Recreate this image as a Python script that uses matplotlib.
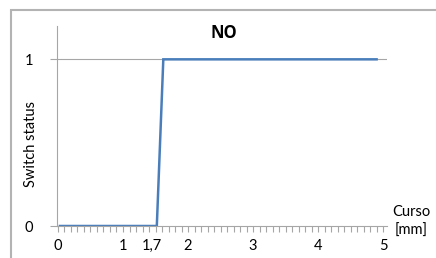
import matplotlib
matplotlib.use("Agg")
import matplotlib.pyplot as plt
import matplotlib.transforms as mtransforms
from matplotlib.patches import Rectangle
import numpy as np

plt.rcParams['font.family'] = ['Lato', 'DejaVu Sans']

# dati (curso in mm, stato dell'interruttore)
curso = [0.03, 1.52, 1.62, 4.9]
stato = [0, 0, 1, 1]

tick_pos = [0, 1, 1.45, 2, 3, 4, 5]
tick_lbl = ["0", "1", "1,7", "2", "3", "4", "5"]

fig = plt.figure(figsize=(4.36, 2.58), dpi=100)
fig.patch.set_facecolor("white")

# cornice del grafico (tagliata a destra e in basso)
cornice = Rectangle((10.5 / 436, -0.1), 1.0, (258 - 9.5) / 258 + 0.1,
                    transform=fig.transFigure, fill=False,
                    edgecolor="#b3b3b3", linewidth=1.5)
fig.add_artist(cornice)

ax = fig.add_axes([57 / 436, 32 / 258, 330 / 436, 200 / 258])
ax.plot(curso, stato, color="#4a7ebb", linewidth=1.8, solid_joinstyle="miter")

ax.set_xlim(-0.015, 5.06)
ax.set_ylim(0, 1.2)

ax.axhline(1, color="#a6a6a6", linewidth=0.8, zorder=0)
for s in ["top", "right"]:
    ax.spines[s].set_visible(False)
ax.spines["left"].set_color("#a6a6a6")
ax.spines["bottom"].set_color("#a6a6a6")
ax.spines["left"].set_linewidth(0.8)
ax.spines["bottom"].set_linewidth(0.8)

ax.set_yticks([0, 1])
ax.set_yticklabels(["0", "1"], fontsize=10.5)
ax.tick_params(axis="y", length=5, color="#a6a6a6", width=0.8, pad=12)

# tacche ogni 0,1 mm, etichette scritte a parte
ax.set_xticks(np.arange(51) / 10)
ax.set_xticklabels([])
ax.tick_params(axis="x", length=4, color="#a6a6a6", width=0.8)
trans = mtransforms.blended_transform_factory(ax.transData, ax.transAxes)
for p, l in zip(tick_pos, tick_lbl):
    ax.text(p, -0.1, l, transform=trans, fontsize=10.5, ha="center", va="center")

fig.text(31 / 436, 1 - 144 / 258, "Switch status", fontsize=10.5, rotation=90,
         ha="center", va="center")
fig.text(224 / 436, 1 - 33 / 258, "NO", fontsize=12, fontweight="bold",
         family="Open Sans", ha="center", va="center")

fig.text(411 / 436, 1 - 212 / 258, "Curso", fontsize=10.5, ha="center", va="center")
fig.text(411 / 436, 1 - 231 / 258, "[mm]", fontsize=10.5, ha="center", va="center")

fig.savefig("out.png", dpi=100)
